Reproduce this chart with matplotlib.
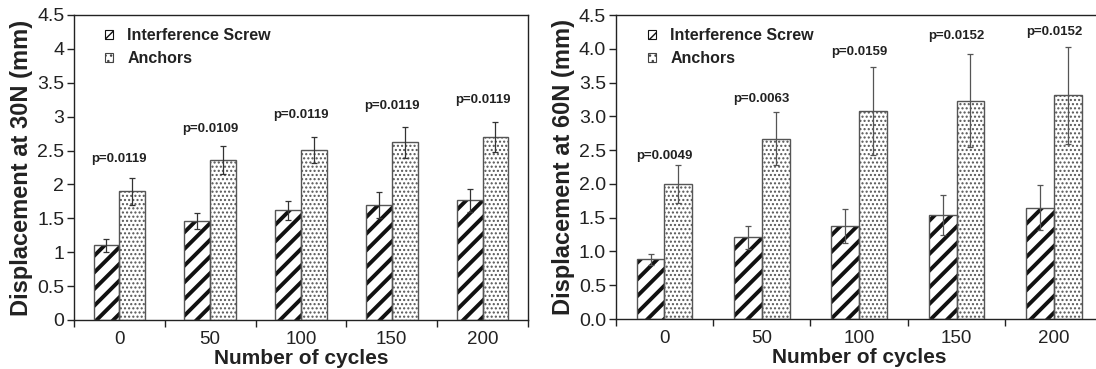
import matplotlib
matplotlib.use("Agg")
import matplotlib.pyplot as plt
from matplotlib.patches import Patch
from matplotlib.ticker import FixedLocator, NullFormatter

plt.rcParams['font.family'] = ['Liberation Sans', 'DejaVu Sans']

cycles = ['0', '50', '100', '150', '200']

# Panel A (30N)
screw_30 = [1.10, 1.46, 1.62, 1.70, 1.77]
screw_30_err = [0.10, 0.12, 0.14, 0.19, 0.17]
anchor_30 = [1.90, 2.36, 2.51, 2.62, 2.70]
anchor_30_err = [0.20, 0.20, 0.19, 0.23, 0.22]
p_30 = ['p=0.0119', 'p=0.0109', 'p=0.0119', 'p=0.0119', 'p=0.0119']
p_30_y = [2.37, 2.82, 3.03, 3.15, 3.25]

# Panel B (60N)
screw_60 = [0.885, 1.21, 1.38, 1.54, 1.65]
screw_60_err = [0.08, 0.17, 0.25, 0.29, 0.33]
anchor_60 = [2.00, 2.67, 3.08, 3.23, 3.31]
anchor_60_err = [0.28, 0.39, 0.65, 0.69, 0.72]
p_60 = ['p=0.0049', 'p=0.0063', 'p=0.0159', 'p=0.0152', 'p=0.0152']
p_60_y = [2.42, 3.25, 3.95, 4.19, 4.25]

yticks = [0, 0.5, 1, 1.5, 2, 2.5, 3, 3.5, 4, 4.5]
yticklabels_a = ['0', '0.5', '1', '1.5', '2', '2.5', '3', '3.5', '4', '4.5']
yticklabels_b = ['0.0', '0.5', '1.0', '1.5', '2.0', '2.5', '3.0', '3.5', '4.0', '4.5']

fig = plt.figure(figsize=(10.96, 3.69), dpi=100)
axA = fig.add_axes([0.0675, 0.1328, 0.4142, 0.8266])
axB = fig.add_axes([0.5618, 0.1355, 0.4442, 0.8238])

W = 0.285
EDGE = '#555555'
SCREW_HATCH = '//'
ANCHOR_HATCH = '....'
SCREW_HLW = 2.8
ANCHOR_HLW = 1.0


def set_hlw(artists, lw):
    for a in artists:
        if hasattr(a, 'set_hatch_linewidth'):
            a.set_hatch_linewidth(lw)
        else:
            a._hatch_linewidth = lw


def draw(ax, screw, screw_err, anchor, anchor_err, pl, ply, ylab, yticklabels, ecol):
    x = list(range(len(cycles)))
    xs = [i - W / 2 for i in x]
    xa = [i + W / 2 for i in x]
    with plt.rc_context({'hatch.linewidth': SCREW_HLW}):
        b1 = ax.bar(xs, screw, width=W, color='white', edgecolor='#111111', hatch=SCREW_HATCH, linewidth=0, zorder=2)
    set_hlw(b1, SCREW_HLW)
    with plt.rc_context({'hatch.linewidth': ANCHOR_HLW}):
        b2 = ax.bar(xa, anchor, width=W, color='white', edgecolor='#555555', hatch=ANCHOR_HATCH, linewidth=0, zorder=2)
    set_hlw(b2, ANCHOR_HLW)
    ax.bar(xs, screw, width=W, fill=False, edgecolor=EDGE, linewidth=1.0, zorder=3)
    ax.bar(xa, anchor, width=W, fill=False, edgecolor=EDGE, linewidth=1.0, zorder=3)
    ax.errorbar(xs, screw, yerr=screw_err, fmt='none', ecolor=ecol, elinewidth=0.9, capsize=2.2, capthick=0.9, zorder=4)
    ax.errorbar(xa, anchor, yerr=anchor_err, fmt='none', ecolor=ecol, elinewidth=0.9, capsize=2.2, capthick=0.9, zorder=4)
    for i, (t, yy) in enumerate(zip(pl, ply)):
        ax.text(i, yy, t, ha='center', va='center', fontsize=9.5, fontweight='bold', color='#222222')
    ax.set_xlim(-0.5, len(cycles) - 0.5)
    ax.set_ylim(0, 4.5)
    ax.set_yticks(yticks)
    ax.set_yticklabels(yticklabels)
    ax.set_xticks(x)
    ax.set_xticklabels(cycles)
    ax.xaxis.set_minor_locator(FixedLocator([i - 0.5 for i in range(len(cycles) + 1)]))
    ax.xaxis.set_minor_formatter(NullFormatter())
    ax.tick_params(axis='x', which='major', length=0, pad=8, labelsize=13.5, labelcolor='#222222')
    ax.tick_params(axis='x', which='minor', length=5, width=1.0, direction='out', color='#222222')
    ax.tick_params(axis='y', length=5, width=1.0, direction='out', labelsize=14, labelcolor='#222222', color='#222222', pad=2)
    for s in ax.spines.values():
        s.set_color('#222222')
        s.set_linewidth(1.0)
    ax.set_xlabel('Number of cycles', fontsize=15, fontweight='bold', color='#222222', labelpad=0.5)
    ax.set_ylabel(ylab, fontsize=17, fontweight='bold', color='#222222', labelpad=3)
    handles = [Patch(facecolor='white', edgecolor='#111111', hatch='///', linewidth=0.8, label='Interference Screw'),
               Patch(facecolor='white', edgecolor='#444444', hatch='...', linewidth=0.8, label='Anchors')]
    leg = ax.legend(handles=handles, loc='upper left', frameon=False,
                    prop={'weight': 'bold', 'size': 11.5}, handlelength=0.5, handleheight=0.5,
                    handletextpad=0.9, labelspacing=0.5, borderaxespad=0.4, bbox_to_anchor=(0.04, 1.0))
    for t in leg.get_texts():
        t.set_color('#222222')


draw(axA, screw_30, screw_30_err, anchor_30, anchor_30_err, p_30, p_30_y,
     'Displacement at 30N (mm)', yticklabels_a, '#333333')
draw(axB, screw_60, screw_60_err, anchor_60, anchor_60_err, p_60, p_60_y,
     'Displacement at 60N (mm)', yticklabels_b, '#555555')

fig.savefig('out.png', dpi=100)
